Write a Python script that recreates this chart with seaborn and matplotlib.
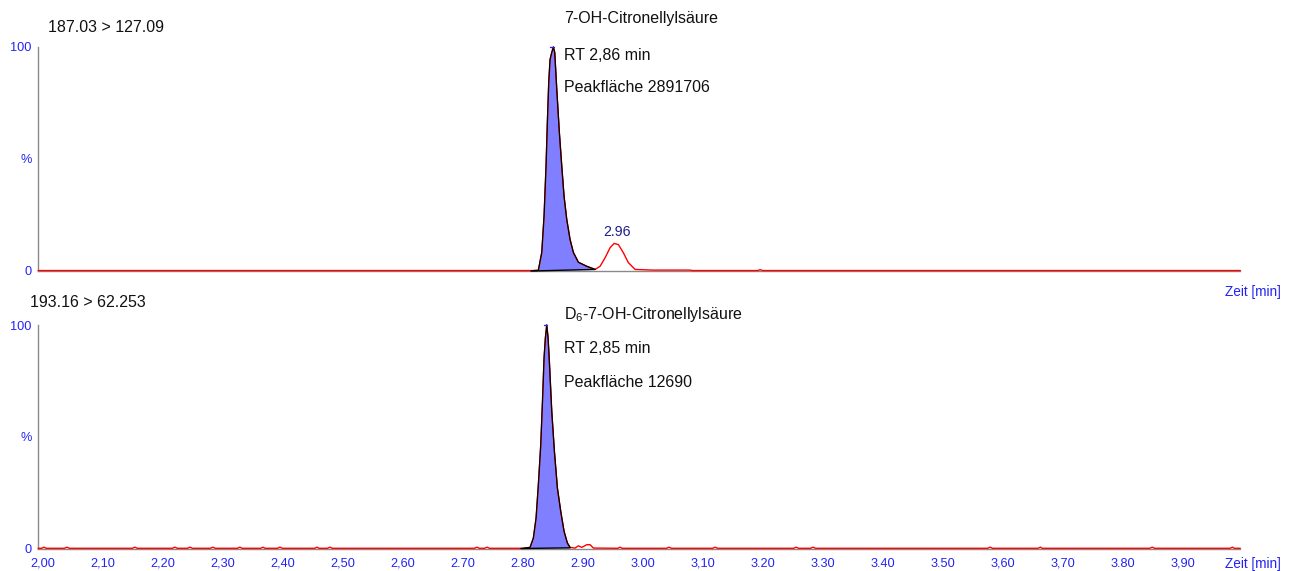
import numpy as np
import pandas as pd
import matplotlib
matplotlib.use("Agg")
import matplotlib.pyplot as plt
import seaborn as sns
from matplotlib.ticker import MultipleLocator, FixedLocator

# ---------------- data ----------------
top_channel = "187.03 > 127.09"
bot_channel = "193.16 > 62.253"

top_t = [1.992, 2.30, 2.60, 2.8172, 2.8255, 2.8312, 2.835, 2.8383, 2.8405, 2.8428,
         2.845, 2.8478, 2.8505, 2.8528, 2.8562, 2.8605, 2.8645, 2.8683, 2.8728, 2.8783,
         2.8838, 2.8922, 2.9062, 2.92, 2.9283, 2.9367, 2.945, 2.9517, 2.9588, 2.9672,
         2.9755, 2.9867, 3.0172, 3.0783, 3.082, 3.191, 3.195, 3.199, 3.60, 3.995]
top_i = [0.2, 0.2, 0.2, 0.2, 0.3, 8.3, 24.5, 46.8, 66.3, 84.2,
         94.4, 97.5, 100.0, 97.5, 81.0, 61.8, 46.8, 33.4, 23.0, 14.1,
         8.3, 3.9, 2.1, 0.7, 2.1, 5.9, 10.4, 12.3, 11.8, 8.1,
         3.7, 0.7, 0.4, 0.4, 0.2, 0.2, 0.6, 0.2, 0.2, 0.2]
top_peak = (2.8172, 2.92)
top_peak_base = (0.0, 0.7)

bot_t = [1.992, 1.998, 2.0017, 2.0055, 2.036, 2.04, 2.044, 2.149, 2.1533, 2.1573,
         2.216, 2.22, 2.224, 2.241, 2.245, 2.249, 2.279, 2.2833, 2.287, 2.324,
         2.3283, 2.332, 2.363, 2.3667, 2.370, 2.391, 2.395, 2.399, 2.453, 2.4567,
         2.460, 2.474, 2.4783, 2.482, 2.719, 2.7233, 2.727, 2.736, 2.74, 2.744,
         2.8005, 2.8117, 2.8172, 2.8217, 2.8255, 2.8295, 2.8328, 2.835, 2.8372, 2.8395,
         2.8417, 2.8438, 2.8478, 2.8522, 2.8572, 2.8628, 2.8683, 2.8738, 2.8783, 2.8867,
         2.8922, 2.8978, 2.9062, 2.9117, 2.9172, 2.958, 2.9617, 2.965, 3.039, 3.0433,
         3.047, 3.116, 3.12, 3.124, 3.251, 3.255, 3.259, 3.279, 3.2833, 3.287,
         3.574, 3.5783, 3.582, 3.658, 3.6617, 3.665, 3.844, 3.8483, 3.852, 3.978,
         3.9817, 3.985, 3.995]
bot_i = [0.1, 0.1, 0.6, 0.1, 0.1, 0.6, 0.1, 0.1, 0.6, 0.1,
         0.1, 0.6, 0.1, 0.1, 0.6, 0.1, 0.1, 0.6, 0.1, 0.1,
         0.6, 0.1, 0.1, 0.6, 0.1, 0.1, 0.6, 0.1, 0.1, 0.6,
         0.1, 0.1, 0.6, 0.1, 0.1, 0.6, 0.1, 0.1, 0.6, 0.1,
         0.1, 0.5, 4.7, 13.6, 28.5, 46.4, 68.8, 85.2, 94.2, 100.0,
         94.2, 83.9, 61.5, 43.6, 27.1, 16.6, 7.7, 2.5, 0.5, 0.2,
         1.2, 0.5, 1.7, 1.7, 0.2, 0.1, 0.6, 0.1, 0.1, 0.6,
         0.1, 0.1, 0.6, 0.1, 0.1, 0.6, 0.1, 0.1, 0.6, 0.1,
         0.1, 0.6, 0.1, 0.1, 0.6, 0.1, 0.1, 0.6, 0.1, 0.1,
         0.6, 0.1, 0.1]
bot_peak = (2.8005, 2.8783)
bot_peak_base = (0.0, 0.3)

top_labels = ["7-OH-Citronellylsäure", "RT 2,86 min", "Peakfläche 2891706"]
bot_labels = ["D$_6$-7-OH-Citronellylsäure", "RT 2,85 min", "Peakfläche 12690"]
minor_peak_label = "2.96"
minor_peak_pos = (2.9567, 17.2)
top_apex = (2.8505, 100.0)
bot_apex = (2.8395, 100.0)

x_tick_values = [2.00, 2.10, 2.20, 2.30, 2.40, 2.50, 2.60, 2.70, 2.80, 2.90,
                 3.00, 3.10, 3.20, 3.30, 3.40, 3.50, 3.60, 3.70, 3.80, 3.90]
x_tick_labels = ["2,00", "2,10", "2,20", "2,30", "2,40", "2,50", "2,60", "2.70", "2.80", "2.90",
                 "3.00", "3,10", "3.20", "3.30", "3.40", "3.50", "3,60", "3,70", "3.80", "3,90"]
y_tick_values = [0, 50, 100]
y_tick_labels = ["0", "%", "100"]
x_axis_label = "Zeit [min]"

# ---------------- style ----------------
sns.set_style("white")
plt.rcParams["font.family"] = ["Liberation Sans", "DejaVu Sans"]
plt.rcParams["mathtext.default"] = "regular"

BLUE = "#2323f5"
NAVY = "#1c1c8a"
GRAY = "#8a8a8a"
FILL = "#7f7fff"

fig = plt.figure(figsize=(12.9, 5.71), dpi=100)
ax_top = fig.add_axes([0.0295, 0.5254, 0.932, 0.3923])
ax_bot = fig.add_axes([0.0295, 0.0394, 0.932, 0.3914])

XMIN, XMAX = 1.992, 3.995


def draw_panel(ax, t, inten, peak, base, labels, label_y, apex, show_xlabels):
    df = pd.DataFrame({"t": t, "i": inten})
    sns.lineplot(data=df, x="t", y="i", ax=ax, sort=False, estimator=None,
                 color="red", lw=1.0, clip_on=False, zorder=3)
    sub = df[(df.t >= peak[0]) & (df.t <= peak[1])]
    basel = np.interp(sub.t, [peak[0], peak[1]], [base[0], base[1]])
    ax.fill_between(sub.t, basel, sub.i, color=FILL, lw=0, zorder=2)
    ax.plot(sub.t, sub.i, color="black", lw=0.9, zorder=4, clip_on=False)
    ax.plot([peak[0] - 0.004, peak[1]], [base[0], base[1]], color="black",
            lw=1.0, zorder=4, clip_on=False)
    # apex marker
    ax.plot([apex[0] - 0.005, apex[0] + 0.001], [apex[1], apex[1]],
            color=BLUE, lw=1.0, zorder=5, clip_on=False)

    ax.set_xlim(XMIN, XMAX)
    ax.set_ylim(0, 100)
    for s in ["top", "right"]:
        ax.spines[s].set_visible(False)
    for s in ["left", "bottom"]:
        ax.spines[s].set_color(GRAY)
        ax.spines[s].set_linewidth(1.0)

    ax.xaxis.set_major_locator(FixedLocator(x_tick_values))
    ax.xaxis.set_minor_locator(MultipleLocator(0.01))
    if show_xlabels:
        ax.set_xticklabels(x_tick_labels)
    else:
        ax.set_xticklabels([])
    ax.tick_params(axis="x", which="major", direction="out", length=5, width=1,
                   color=GRAY, labelcolor=BLUE, labelsize=9.2, pad=1.5)
    ax.tick_params(axis="x", which="minor", direction="out", length=3, width=0.8,
                   color=GRAY)
    ax.set_yticks(y_tick_values)
    ax.set_yticklabels(y_tick_labels)
    ax.yaxis.set_minor_locator(MultipleLocator(10))
    ax.tick_params(axis="y", which="major", direction="out", length=3.5, width=1,
                   color=GRAY, labelcolor=BLUE, labelsize=9.2, pad=1)
    ax.tick_params(axis="y", which="minor", direction="out", length=2, width=0.8,
                   color=GRAY)
    ax.set_xlabel("")
    ax.set_ylabel("")

    for txt, yy in zip(labels, label_y):
        ax.text(2.868, yy, txt, fontsize=11.5, color="#111111", ha="left",
                va="center", clip_on=False)


draw_panel(ax_top, top_t, top_i, top_peak, top_peak_base, top_labels,
           [112.9, 96.0, 81.7], top_apex, False)
draw_panel(ax_bot, bot_t, bot_i, bot_peak, bot_peak_base, bot_labels,
           [104.5, 89.7, 74.5], bot_apex, True)

ax_top.text(minor_peak_pos[0], minor_peak_pos[1], minor_peak_label, fontsize=10.2,
            color=NAVY, ha="center", va="center")

fig.text(0.0372, 0.9527, top_channel, fontsize=11.5, color="#111111",
         ha="left", va="center")
fig.text(0.0233, 0.4694, bot_channel, fontsize=11.5, color="#111111",
         ha="left", va="center")
fig.text(0.9713, 0.4886, x_axis_label, fontsize=9.8, color=BLUE,
         ha="center", va="center")
fig.text(0.9713, 0.0123, x_axis_label, fontsize=9.8, color=BLUE,
         ha="center", va="center")

fig.savefig("out.png", dpi=100)
